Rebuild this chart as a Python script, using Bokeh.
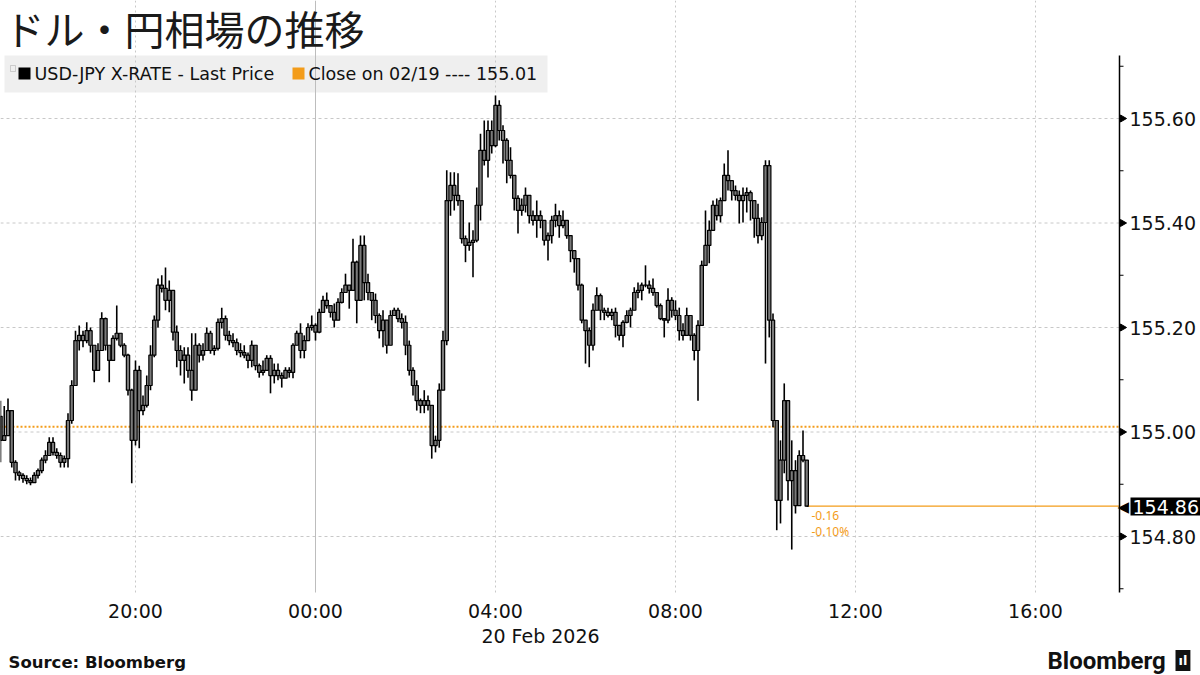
import math
import pandas as pd
from bokeh.plotting import figure
from bokeh.models import Range1d, Label, BoxAnnotation
from bokeh.embed import file_html
from bokeh.resources import INLINE

# ---------------- data (5-minute bars, USD-JPY) ----------------
first_open = 155.030

high = [
155.060, 155.050, 155.064, 155.041, 154.946, 154.926, 154.921, 154.917, 154.913, 154.923,
154.930, 154.951, 154.965, 154.990, 154.990, 154.969, 154.961, 154.955, 155.036, 155.099,
155.194, 155.204, 155.194, 155.210, 155.200, 155.166, 155.170, 155.229, 155.219, 155.166,
155.185, 155.242, 155.189, 155.170, 155.150, 155.083, 155.137, 155.127, 155.070, 155.108,
155.166, 155.223, 155.294, 155.300, 155.315, 155.290, 155.261, 155.204, 155.166, 155.162,
155.162, 155.189, 155.189, 155.170, 155.170, 155.200, 155.194, 155.166, 155.217, 155.238,
155.223, 155.194, 155.189, 155.179, 155.170, 155.166, 155.152, 155.175, 155.162, 155.131,
155.137, 155.147, 155.147, 155.131, 155.131, 155.114, 155.124, 155.124, 155.170, 155.194,
155.208, 155.185, 155.208, 155.223, 155.208, 155.236, 155.261, 155.267, 155.242, 155.246,
155.256, 155.275, 155.303, 155.281, 155.370, 155.328, 155.376, 155.376, 155.303, 155.265,
155.265, 155.227, 155.233, 155.189, 155.233, 155.238, 155.238, 155.227, 155.223, 155.175,
155.124, 155.099, 155.064, 155.080, 155.070, 155.051, 154.993, 155.093, 155.194, 155.501,
155.497, 155.497, 155.495, 155.443, 155.376, 155.401, 155.386, 155.468, 155.571, 155.596,
155.596, 155.596, 155.644, 155.635, 155.587, 155.562, 155.545, 155.485, 155.453, 155.447,
155.468, 155.434, 155.424, 155.443, 155.424, 155.401, 155.382, 155.414, 155.437, 155.424,
155.424, 155.401, 155.361, 155.347, 155.328, 155.284, 155.208, 155.200, 155.246, 155.277,
155.265, 155.238, 155.238, 155.236, 155.238, 155.200, 155.214, 155.233, 155.238, 155.277,
155.286, 155.286, 155.319, 155.290, 155.294, 155.265, 155.246, 155.217, 155.275, 155.258,
155.252, 155.238, 155.208, 155.238, 155.214, 155.189, 155.214, 155.328, 155.424, 155.405,
155.443, 155.447, 155.449, 155.514, 155.539, 155.476, 155.472, 155.462, 155.468, 155.468,
155.462, 155.443, 155.437, 155.411, 155.520, 155.520, 155.227, 155.016, 154.984, 155.093,
155.003, 154.984, 154.946, 154.965, 155.003, 154.946]

low = [
154.942, 154.984, 154.997, 154.932, 154.907, 154.907, 154.903, 154.900, 154.898, 154.903,
154.911, 154.921, 154.940, 154.961, 154.955, 154.949, 154.932, 154.932, 154.932, 155.016,
155.093, 155.156, 155.162, 155.170, 155.152, 155.095, 155.118, 155.156, 155.156, 155.095,
155.137, 155.175, 155.162, 155.143, 155.070, 154.902, 154.974, 154.969, 155.032, 155.047,
155.080, 155.143, 155.200, 155.267, 155.233, 155.229, 155.175, 155.124, 155.108, 155.093,
155.104, 155.060, 155.085, 155.133, 155.137, 155.156, 155.150, 155.147, 155.156, 155.198,
155.175, 155.166, 155.162, 155.147, 155.143, 155.141, 155.122, 155.124, 155.118, 155.104,
155.108, 155.127, 155.074, 155.093, 155.099, 155.085, 155.103, 155.104, 155.103, 155.166,
155.141, 155.141, 155.181, 155.194, 155.175, 155.189, 155.233, 155.236, 155.219, 155.200,
155.219, 155.246, 155.271, 155.236, 155.271, 155.208, 155.284, 155.252, 155.252, 155.214,
155.208, 155.179, 155.162, 155.150, 155.170, 155.223, 155.210, 155.198, 155.147, 155.108,
155.070, 155.041, 155.036, 155.036, 155.041, 154.949, 154.961, 154.970, 155.089, 155.166,
155.414, 155.424, 155.433, 155.361, 155.325, 155.347, 155.296, 155.363, 155.405, 155.510,
155.487, 155.533, 155.545, 155.558, 155.514, 155.476, 155.485, 155.424, 155.380, 155.414,
155.420, 155.399, 155.395, 155.372, 155.390, 155.357, 155.328, 155.361, 155.392, 155.372,
155.390, 155.370, 155.325, 155.305, 155.271, 155.208, 155.131, 155.124, 155.156, 155.242,
155.214, 155.214, 155.219, 155.214, 155.181, 155.175, 155.162, 155.208, 155.200, 155.233,
155.256, 155.252, 155.277, 155.265, 155.261, 155.238, 155.214, 155.181, 155.208, 155.219,
155.214, 155.175, 155.175, 155.200, 155.175, 155.137, 155.060, 155.204, 155.323, 155.323,
155.386, 155.405, 155.401, 155.443, 155.462, 155.443, 155.443, 155.399, 155.401, 155.420,
155.405, 155.372, 155.361, 155.367, 155.131, 155.181, 155.009, 154.812, 154.825, 154.921,
154.869, 154.775, 154.844, 154.894, 154.942, 154.858]

close = [
154.984, 154.993, 155.041, 154.942, 154.922, 154.917, 154.911, 154.907, 154.903, 154.917,
154.926, 154.946, 154.955, 154.980, 154.961, 154.955, 154.942, 154.949, 155.022, 155.089,
155.175, 155.185, 155.175, 155.194, 155.166, 155.118, 155.156, 155.217, 155.166, 155.137,
155.179, 155.189, 155.166, 155.147, 155.080, 154.984, 155.118, 155.041, 155.051, 155.089,
155.147, 155.214, 155.281, 155.275, 155.252, 155.271, 155.191, 155.156, 155.137, 155.147,
155.118, 155.080, 155.166, 155.147, 155.156, 155.189, 155.156, 155.160, 155.210, 155.217,
155.185, 155.175, 155.171, 155.156, 155.152, 155.147, 155.137, 155.166, 155.127, 155.114,
155.118, 155.141, 155.108, 155.118, 155.108, 155.103, 155.118, 155.114, 155.166, 155.189,
155.156, 155.175, 155.200, 155.204, 155.191, 155.229, 155.252, 155.242, 155.229, 155.214,
155.248, 155.267, 155.281, 155.271, 155.325, 155.252, 155.357, 155.286, 155.267, 155.252,
155.223, 155.194, 155.214, 155.166, 155.223, 155.233, 155.217, 155.210, 155.166, 155.118,
155.089, 155.060, 155.051, 155.060, 155.051, 154.974, 154.984, 155.080, 155.175, 155.443,
155.472, 155.453, 155.443, 155.370, 155.357, 155.363, 155.367, 155.434, 155.539, 155.520,
155.577, 155.548, 155.625, 155.577, 155.558, 155.520, 155.491, 155.447, 155.424, 155.434,
155.453, 155.414, 155.405, 155.414, 155.405, 155.367, 155.376, 155.405, 155.414, 155.395,
155.405, 155.376, 155.347, 155.332, 155.281, 155.214, 155.194, 155.166, 155.233, 155.261,
155.233, 155.229, 155.223, 155.229, 155.204, 155.185, 155.210, 155.223, 155.233, 155.267,
155.271, 155.281, 155.281, 155.275, 155.267, 155.242, 155.217, 155.214, 155.252, 155.233,
155.223, 155.194, 155.185, 155.223, 155.185, 155.156, 155.204, 155.319, 155.357, 155.386,
155.434, 155.414, 155.443, 155.491, 155.481, 155.462, 155.453, 155.443, 155.453, 155.458,
155.443, 155.409, 155.376, 155.401, 155.510, 155.214, 155.022, 154.869, 154.946, 155.060,
154.907, 154.926, 154.859, 154.955, 154.946, 154.858]

prev_close = 155.01
y_ticks = [154.80, 155.00, 155.20, 155.40, 155.60]
y_tick_labels = ["154.80", "155.00", "155.20", "155.40", "155.60"]
y_minor = [154.70, 154.90, 155.10, 155.30, 155.50, 155.70]
x_tick_times = ["2026-02-19 20:00", "2026-02-20 00:00", "2026-02-20 04:00",
                "2026-02-20 08:00", "2026-02-20 12:00", "2026-02-20 16:00"]
x_tick_labels = ["20:00", "00:00", "04:00", "08:00", "12:00", "16:00"]
title_text = "ドル・円相場の推移"
series_name = "USD-JPY X-RATE - Last Price"
close_name = "Close on 02/19 ---- 155.01"
last_label = "154.86"
chg_abs = "-0.16"
chg_pct = "-0.10%"
date_label = "20 Feb 2026"
source_text = "Source:  Bloomberg"
brand_text = "Bloomberg"

# ---------------- derived ----------------
start = pd.Timestamp("2026-02-19 17:00")
times = pd.date_range(start, periods=len(close), freq="5min")
opens = [first_open] + close[:-1]
body_bot = [min(o, c) for o, c in zip(opens, close)]
body_top = [max(o, c) for o, c in zip(opens, close)]
wick_lo = [min(l, o, c) for l, o, c in zip(low, opens, close)]
wick_hi = [max(h, o, c) for h, o, c in zip(high, opens, close)]

W, H = 1200, 675
PX_H = 45.0                        # pixels per hour
PX_P = 522.5                       # pixels per 1.00 yen
px = pd.Timedelta(hours=1) / PX_H  # one pixel in time

x_left = start
x_right = start + W * px
ax_time = start + 1119 * px
y_top = 155.0 + 431.5 / PX_P
y_bot = 155.0 - (H - 431.5) / PX_P
reg_top = 155.0 + (431.5 - 55) / PX_P
reg_bot = 155.0 - (592 - 431.5) / PX_P

ORANGE = "#f39c1a"
FONT = "DejaVu Sans"

p = figure(frame_width=W, frame_height=H,
           x_range=Range1d(x_left, x_right), y_range=Range1d(y_bot, y_top),
           x_axis_type="datetime",
           x_axis_location=None, y_axis_location=None,
           output_backend="svg", toolbar_location=None,
           min_border=0)
p.outline_line_color = None
p.grid.grid_line_color = None
p.background_fill_color = "white"


def lab(text, x, y, size, color="#111111", font=FONT, align="left", baseline="middle",
        style="normal", x_units="screen", y_units="screen", **kw):
    l = Label(x=x, y=y, x_units=x_units, y_units=y_units, text=text,
              text_font=font, text_font_size=size, text_color=color,
              text_align=align, text_baseline=baseline, text_font_style=style, **kw)
    p.add_layout(l)
    return l


def sy(page_y):
    return H - page_y


def box(l, r, top, bottom, **kw):
    p.add_layout(BoxAnnotation(left=l, right=r, bottom=sy(bottom), top=sy(top),
                               left_units="screen", right_units="screen",
                               bottom_units="screen", top_units="screen", **kw))


# legend background (under the gridlines)
box(4, 547, 55, 92, fill_color="#efefef", fill_alpha=1, line_color=None, level="underlay")

# horizontal gridlines
p.segment(x0=[x_left] * len(y_ticks), y0=y_ticks, x1=[ax_time] * len(y_ticks), y1=y_ticks,
          line_color="#c8c8c8", line_dash="3 3", line_width=1)
# vertical gridlines
xt = [pd.Timestamp(t) for t in x_tick_times]
dotted = [t for t in xt if t.hour != 0]
solid = [t for t in xt if t.hour == 0]
p.segment(x0=dotted, y0=[reg_bot] * len(dotted), x1=dotted, y1=[y_top] * len(dotted),
          line_color="#c8c8c8", line_dash="2 3", line_width=1)
p.segment(x0=solid, y0=[reg_bot] * len(solid), x1=solid, y1=[y_top] * len(solid),
          line_color="#bdbdbd", line_width=1)

# previous close line
p.segment(x0=[x_left], y0=[prev_close], x1=[ax_time], y1=[prev_close],
          line_color=ORANGE, line_dash="2 2", line_width=2)

# bars
p.segment(x0=times, y0=wick_lo, x1=times, y1=wick_hi, line_color="black", line_width=1.6)
p.vbar(x=times, width=3.3 * px, bottom=body_bot, top=body_top,
       fill_color="#7a7a7a", line_color="black", line_width=1.2)

# last price line
last_t = times[-1]
p.segment(x0=[last_t], y0=[close[-1]], x1=[last_t + 2 * px], y1=[close[-1]],
          line_color="black", line_width=1.3)
p.segment(x0=[last_t + 2 * px], y0=[close[-1]], x1=[ax_time], y1=[close[-1]],
          line_color=ORANGE, line_width=1.3)

# right axis line and ticks
p.segment(x0=[ax_time], y0=[reg_bot], x1=[ax_time], y1=[reg_top],
          line_color="black", line_width=1.5)
p.scatter(x=[ax_time + 3 * px] * len(y_ticks), y=y_ticks, marker="triangle",
          angle=-math.pi / 2, size=7, color="black")
p.segment(x0=[ax_time] * len(y_minor), y0=y_minor, x1=[ax_time + 4 * px] * len(y_minor),
          y1=y_minor, line_color="black", line_width=1)
for v, t in zip(y_ticks, y_tick_labels):
    lab(t, 1129, v, "19px", y_units="data")

# x tick labels
for t, s in zip(xt, x_tick_labels):
    lab(s, t, sy(610), "19px", align="center", x_units="data")
lab(date_label, 540, sy(635), "19px", align="center")

# title
lab(title_text, 4, sy(27), "40px", font="Noto Sans CJK JP", baseline="middle",
    color="#1a1a1a")

# legend content
box(10, 15, 65, 71, fill_alpha=0, line_color="#777777", line_width=1, level="annotation")
box(18, 30, 67, 79, fill_color="black", fill_alpha=1, line_color=None, level="annotation")
box(292, 304, 67, 79, fill_color=ORANGE, fill_alpha=1, line_color=None, level="annotation")
lab(series_name, 34, sy(73), "17.5px")
lab(close_name, 308, sy(73), "17.5px")

# change labels
lab(chg_abs, 811, sy(515), "12px", color=ORANGE, font="Noto Sans")
lab(chg_pct, 811, sy(531), "12px", color=ORANGE, font="Noto Sans")

# last price tag
lab("\u25c0", 1117, sy(506), "15px", color="black")
lab(last_label, 1130, sy(506), "19px", color="white", background_fill_color="black",
    padding=2)

# footer
lab(source_text, 8, sy(662), "16.5px", font="DejaVu Sans", style="bold")
lab(brand_text, 1047, sy(660), "24px", font="Roboto", style="bold")
lab("ıl", 1175, sy(660), "13px", color="white", background_fill_color="#111111",
    padding=3, font="DejaVu Sans", style="bold")

open("out.html", "w").write(file_html(p, INLINE))
